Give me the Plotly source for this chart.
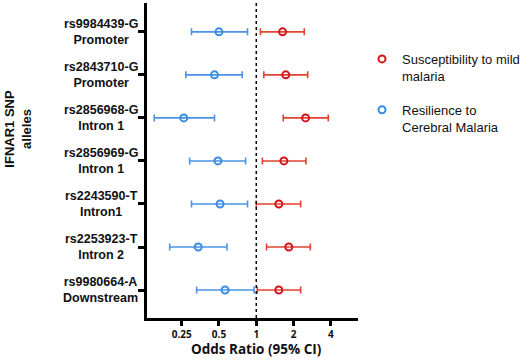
import plotly.graph_objects as go

snps = ["rs9984439-G", "rs2843710-G", "rs2856968-G", "rs2856969-G",
        "rs2243590-T", "rs2253923-T", "rs9980664-A"]
regions = ["Promoter", "Promoter", "Intron 1", "Intron 1", "Intron1", "Intron 2", "Downstream"]

mild_or = [1.63, 1.73, 2.50, 1.67, 1.52, 1.83, 1.52]
mild_lo = [1.08, 1.15, 1.65, 1.12, 1.00, 1.21, 1.02]
mild_hi = [2.44, 2.60, 3.81, 2.52, 2.28, 2.73, 2.28]

cm_or = [0.50, 0.46, 0.26, 0.49, 0.51, 0.34, 0.56]
cm_lo = [0.30, 0.27, 0.15, 0.29, 0.30, 0.20, 0.33]
cm_hi = [0.85, 0.77, 0.46, 0.82, 0.85, 0.58, 0.96]

x_ticks = [0.25, 0.5, 1, 2, 4]
x_ticktext = ["0.25", "0.5", "1", "2", "4"]

rows = list(range(len(snps)))

RED = "#d4141c"
RED_BAR = "#e2432f"
BLUE = "#3a8be6"
BLUE_BAR = "#4c93e6"

fig = go.Figure()
fig.add_trace(go.Scatter(
    x=mild_or, y=rows, mode="markers", name="Susceptibility to mild<br>malaria",
    legendgroup="a", hoverinfo="skip",
    marker=dict(symbol="circle-open", size=7, color=RED, line=dict(width=2, color=RED)),
    error_x=dict(type="data", symmetric=False,
                 array=[h - c for h, c in zip(mild_hi, mild_or)],
                 arrayminus=[c - l for c, l in zip(mild_or, mild_lo)],
                 color=RED_BAR, thickness=1.6, width=3.5),
))
fig.add_trace(go.Scatter(
    x=cm_or, y=rows, mode="markers", name="Resilience to<br>Cerebral Malaria",
    legendgroup="b", hoverinfo="skip",
    marker=dict(symbol="circle-open", size=7, color=BLUE, line=dict(width=2, color=BLUE)),
    error_x=dict(type="data", symmetric=False,
                 array=[h - c for h, c in zip(cm_hi, cm_or)],
                 arrayminus=[c - l for c, l in zip(cm_or, cm_lo)],
                 color=BLUE_BAR, thickness=1.6, width=3.5),
))

fig.add_shape(type="line", xref="x", yref="paper", x0=1, x1=1, y0=0, y1=1,
              line=dict(color="black", width=1.5, dash="dot"))

for r, s, g in zip(rows, snps, regions):
    fig.add_annotation(xref="paper", yref="y", x=-0.033, y=r, xanchor="right",
                       yanchor="middle", align="center", showarrow=False,
                       text=f"<b>{s}</b><br><b>{g}</b>",
                       font=dict(family="Liberation Sans, Arial", size=12.5, color="#111"))

fig.add_annotation(xref="paper", yref="paper", x=-0.613, y=0.6, xanchor="center",
                   yanchor="middle", textangle=-90, showarrow=False, align="center",
                   text="<b>IFNAR1 SNP</b><br><b>alleles</b>",
                   font=dict(family="Liberation Sans, Arial", size=13, color="#111"))

fig.add_annotation(xref="x", yref="paper", x=0, y=0, yshift=-31, xanchor="center",
                   yanchor="middle", showarrow=False,
                   text="<b>Odds Ratio (95% CI)</b>",
                   font=dict(family="Open Sans", size=13.5, color="#111"))

fig.update_xaxes(type="log", range=[-0.882, 0.821], tickvals=x_ticks, ticktext=x_ticktext,
                 showline=True, linecolor="black", linewidth=2.5, ticks="outside",
                 ticklen=5, tickwidth=2.5, tickcolor="black", showgrid=False, zeroline=False,
                 tickfont=dict(family="Open Sans", size=10, color="#111", weight="bold"))
fig.update_yaxes(range=[6.65, -0.67], tickvals=rows, showticklabels=False,
                 showline=True, linecolor="black", linewidth=2.5, ticks="outside",
                 ticklen=6, tickwidth=2.5, tickcolor="black", showgrid=False, zeroline=False)

fig.update_layout(
    width=529, height=363,
    margin=dict(l=147, r=171, t=3, b=45, autoexpand=False),
    paper_bgcolor="white", plot_bgcolor="white",
    font=dict(family="Liberation Sans, Arial", color="#111"),
    legend=dict(x=1.019, y=0.87, xanchor="left", yanchor="top", valign="top",
                tracegroupgap=14, bgcolor="rgba(0,0,0,0)",
                font=dict(family="Liberation Sans, Arial", size=13, color="#111")),
    showlegend=True,
)

fig.write_html("out.html", config={"displayModeBar": False},
               post_script="document.body.style.margin='0';document.body.style.overflow='hidden';")
